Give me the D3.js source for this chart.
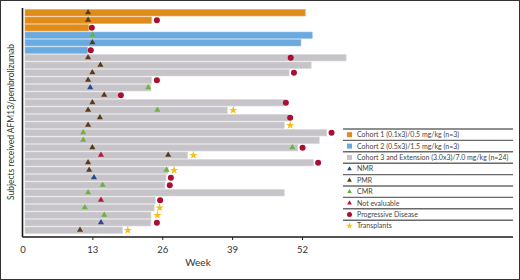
<!DOCTYPE html>
<html><head><meta charset="utf-8">
<script src="https://cdn.jsdelivr.net/npm/d3@7"></script>
<style>
html,body{margin:0;padding:0;background:#fff;}
svg{display:block;font-family:Lato,"Open Sans",sans-serif;}
</style></head>
<body><svg id="c" width="520" height="280"></svg>
<script>
// ---- data ----
const subjects = d3.range(1, 31);
const cohorts = [1,1,1,2,2,2,3,3,3,3,3,3,3,3,3,3,3,3,3,3,3,3,3,3,3,3,3,3,3,3];
const durations = [52.6,24.0,12.3,53.9,51.8,12.1,60.2,53.7,49.6,24.0,23.9,17.8,48.7,38.1,49.5,48.7,56.6,55.2,51.2,30.7,54.1,27.1,26.7,26.5,48.7,24.7,24.5,23.9,23.9,18.6];
const nmr = [[11,12.6],[23,13.3],[29,14.6]];
const pmr = [[1,12.2],[2,12.2],[5,13.0],[7,12.2],[8,14.5],[9,13.0],[10,12.2],[12,15.2],[13,13.0],[14,12.2],[15,14.4],[16,12.2],[19,13.0],[20,27.1],[21,12.2],[22,12.4],[30,10.7]];
const cmr = [[4,13.0],[11,23.4],[14,25.1],[17,11.3],[18,11.3],[19,50.2],[22,26.8],[24,14.9],[25,12.2],[27,11.6],[28,15.2]];
const notEvaluable = [[20,14.6],[26,14.6]];
const progressive = [[2,25.0],[3,12.9],[6,12.7],[7,49.9],[9,50.5],[10,25.0],[12,18.3],[13,49.0],[15,49.8],[17,57.5],[19,52.1],[21,55.0],[23,27.6],[24,27.4],[26,25.6],[29,25.0]];
const transplants = [[14,39.2],[16,49.8],[20,31.8],[22,28.2],[27,25.5],[28,25.1],[30,19.6]];
const xTicks = [0,13,26,39,52];
const legendLabels = ["Cohort 1 (0.1x3)/0.5 mg/kg (n=3)","Cohort 2 (0.5x3)/1.5 mg/kg (n=3)","Cohort 3 and Extension (3.0x3)/7.0 mg/kg (n=24)","NMR","PMR","CMR","Not evaluable","Progressive Disease","Transplants"];

// ---- styles ----
const cohortColor = {1:"#e08c1a", 2:"#6aaadf", 3:"#c6c4c8"};
const cohortStroke = {1:"#eaa84f", 2:"#93c2ea", 3:"#d6d4d8"};
const C = {nmr:"#284a8c", pmr:"#5b3a1a", cmr:"#6cb144", ne:"#b3183c", pd:"#a80f30", tx:"#f3bf1a"};

const svg = d3.select("#c");
svg.append("rect").attr("x",0.5).attr("y",0.5).attr("width",519).attr("height",279)
  .attr("fill","#fff").attr("stroke","#333").attr("stroke-width",1);

const x = d3.scaleLinear().domain([0,52]).range([22.5,302]);
const y = d3.scaleBand().domain(subjects).range([9,234]).paddingInner(0.14).paddingOuter(0.07);
const yc = s => y(s) + y.bandwidth()/2;

// bars
svg.append("g").selectAll("rect").data(subjects).join("rect")
  .attr("x", x(0)+2.5)
  .attr("y", s => y(s))
  .attr("width", (s,i) => x(durations[i]) - x(0) - 2.5)
  .attr("height", y.bandwidth())
  .attr("fill", (s,i) => cohortColor[cohorts[i]])
  .attr("stroke", (s,i) => cohortStroke[cohorts[i]])
  .attr("stroke-width", 0.6);

// axes
const xAxis = d3.axisBottom(x).tickValues(xTicks).tickSize(3).tickPadding(6);
const gx = svg.append("g").attr("transform","translate(0,237)").call(xAxis);
gx.select(".domain").remove();
gx.selectAll(".tick line").attr("stroke","#222").attr("stroke-width",1);
gx.selectAll(".tick").filter(d => d===0).select("line").remove();
gx.selectAll(".tick text").attr("font-size",9.5).attr("fill","#333").attr("font-family","Lato,sans-serif");
svg.append("line").attr("x1",x(0)).attr("x2",513).attr("y1",237).attr("y2",237)
  .attr("stroke","#1a1a1a").attr("stroke-width",1.6);
const yAxis = d3.axisLeft(y).tickValues([]).tickSizeOuter(0);
const gy = svg.append("g").attr("transform",`translate(${x(0)},0)`).call(yAxis);
gy.select(".domain").attr("d","M0,8V237").attr("stroke","#1a1a1a").attr("stroke-width",1.6);

svg.append("text").attr("x",198).attr("y",266).attr("text-anchor","middle")
  .attr("font-size",10).attr("fill","#333").text("Week");
svg.append("text").attr("transform","translate(14,122) rotate(-90)").attr("text-anchor","middle")
  .attr("font-size",8.5).attr("fill","#333").text("Subjects received AFM13/pembrolizumab");

// markers
const tri = d3.symbol().type(d3.symbolTriangle).size(16);
const star = d3.symbol().type(d3.symbolStar).size(22);
function tris(data, color) {
  svg.append("g").selectAll("path").data(data).join("path")
    .attr("d", tri)
    .attr("transform", d => `translate(${x(d[1])},${yc(d[0])-0.3})`)
    .attr("fill", color);
}
tris(pmr, C.pmr); tris(cmr, C.cmr); tris(nmr, C.nmr); tris(notEvaluable, C.ne);
svg.append("g").selectAll("circle").data(progressive).join("circle")
  .attr("cx", d => x(d[1])).attr("cy", d => yc(d[0])).attr("r", 3).attr("fill", C.pd);
svg.append("g").selectAll("path").data(transplants).join("path")
  .attr("d", star).attr("transform", d => `translate(${x(d[1])},${yc(d[0])})`).attr("fill", C.tx);

// legend
const lg = svg.append("g");
const ly0 = 129, lstep = 11.4;
legendLabels.forEach((lab, i) => {
  const top = ly0 + i*lstep, cy = top + lstep/2;
  lg.append("line").attr("x1",343).attr("x2",513).attr("y1",top).attr("y2",top)
    .attr("stroke","#6a6a6a").attr("stroke-width",1.4);
  if (i < 3) {
    lg.append("rect").attr("x",347).attr("y",cy-2.5).attr("width",5).attr("height",5)
      .attr("fill", cohortColor[i+1]);
  } else if (i < 7) {
    const col = [C.nmr, C.pmr, C.cmr, C.ne][i-3];
    lg.append("path").attr("d", d3.symbol().type(d3.symbolTriangle).size(10))
      .attr("transform",`translate(349.5,${cy})`).attr("fill",col);
  } else if (i === 7) {
    lg.append("circle").attr("cx",349.5).attr("cy",cy).attr("r",2.5).attr("fill",C.pd);
  } else {
    lg.append("path").attr("d", d3.symbol().type(d3.symbolStar).size(14))
      .attr("transform",`translate(349.5,${cy})`).attr("fill",C.tx);
  }
  lg.append("text").attr("x",357).attr("y",cy).attr("dy","0.35em")
    .attr("font-size",7).attr("fill","#444").text(lab);
});
</script></body></html>
